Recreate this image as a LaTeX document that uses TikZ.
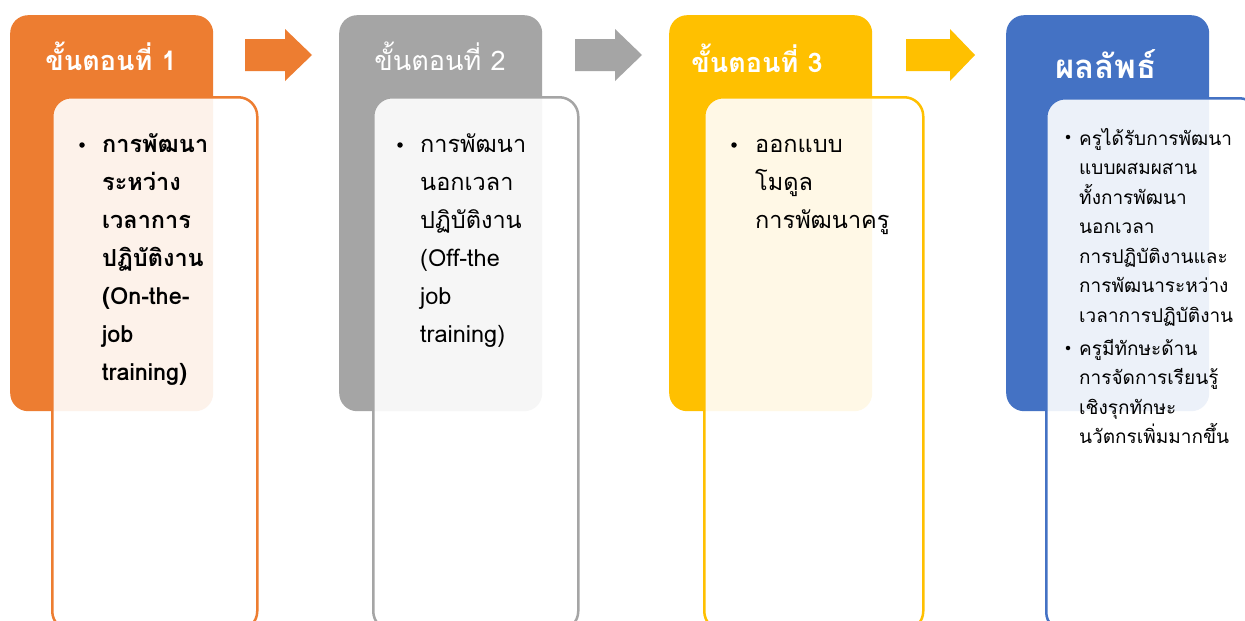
\documentclass[tikz,border=0pt]{standalone}
\usepackage{fontspec}
\setmainfont{Loma}[Script=Thai]
\definecolor{corange}{HTML}{ED7D31}
\definecolor{cgray}{HTML}{A5A5A5}
\definecolor{cyellow}{HTML}{FFC000}
\definecolor{cblue}{HTML}{4472C4}
\tikzset{
  hdr/.style={rounded corners=18pt, minimum width=203pt, minimum height=396pt, anchor=north west, inner sep=0pt},
  outl/.style={rounded corners=19pt, line width=2.5pt, fill=white, fill opacity=0.9, text opacity=1, anchor=north west, inner sep=0pt, minimum height=533pt},
  htext/.style={text=white, anchor=base, inner sep=0pt},
  body/.style={anchor=base west, inner sep=0pt, align=left},
  dot/.style={circle, fill=black, inner sep=0pt, minimum size=5.5pt},
}
\begin{document}
\begin{tikzpicture}[x=1pt,y=-1pt]
\useasboundingbox (0,0) rectangle (1245,621);
\fill[white] (0,0) rectangle (1245,621);
% header boxes
\node[hdr, fill=corange] (h1) at (10,15) {};
\node[hdr, fill=cgray] (h2) at (339,15) {};
\node[hdr, fill=cyellow] (h3) at (669,15) {};
\node[hdr, fill=cblue] (h4) at (1006,15) {};
% outlined boxes
\node[outl, draw=corange, minimum width=205pt] (b1) at (51,96) {};
\node[outl, draw=cgray, minimum width=205pt] (b2) at (372,96) {};
\node[outl, draw=cyellow, minimum width=219pt] (b3) at (703,96) {};
\node[outl, draw=cblue, minimum width=212pt] (b4) at (1045,97) {};
% block arrows
\fill[corange] (245,39) -- (285,39) -- (285,29) -- (312,55) -- (285,81) -- (285,71) -- (245,71) -- cycle;
\fill[cgray] (575,39) -- (615,39) -- (615,29) -- (642,55) -- (615,81) -- (615,71) -- (575,71) -- cycle;
\fill[cyellow] (906,39) -- (950,39) -- (950,29) -- (975,55) -- (950,81) -- (950,71) -- (906,71) -- cycle;
% header texts
\node[htext, font=\bfseries\fontsize{27}{30}\selectfont] (t1) at (111,70) {ขั้นตอนที่ 1};
\node[htext, font=\fontsize{27}{30}\selectfont] (t2) at (440,70) {ขั้นตอนที่ 2};
\node[htext, font=\bfseries\fontsize{27}{30}\selectfont] (t3) at (757,72) {ขั้นตอนที่ 3};
\node[htext, font=\bfseries\fontsize{33}{36}\selectfont] (t4) at (1106,78) {ผลลัพธ์};
% body texts
\node[dot] (d1) at (82,145) {};
\node[body, font=\bfseries\fontsize{23.5}{38}\selectfont] (x1) at (102,152)
  {\parbox[t]{150pt}{การพัฒนา\\ระหว่าง\\เวลาการ\\ปฏิบัติงาน\\(On-the-\\job\\training)}};
\node[dot] (d2) at (400,145) {};
\node[body, font=\fontsize{23.5}{38}\selectfont] (x2) at (420,152)
  {\parbox[t]{150pt}{การพัฒนา\\นอกเวลา\\ปฏิบัติงาน\\(Off-the\\job\\training)}};
\node[dot] (d3) at (734,145) {};
\node[body, font=\fontsize{23.5}{38}\selectfont] (x3) at (755,152)
  {\parbox[t]{150pt}{ออกแบบ\\โมดูล\\การพัฒนาครู}};
\node[dot, minimum size=4.5pt] (d4a) at (1068,137) {};
\node[body, font=\fontsize{19}{29.5}\selectfont] (x4a) at (1079,145)
  {\parbox[t]{170pt}{ครูได้รับการพัฒนา\\แบบผสมผสาน\\ทั้งการพัฒนา\\นอกเวลา\\การปฏิบัติงานและ\\การพัฒนาระหว่าง\\เวลาการปฏิบัติงาน}};
\node[dot, minimum size=4.5pt] (d4b) at (1068,348) {};
\node[body, font=\fontsize{19}{29.5}\selectfont] (x4b) at (1079,355)
  {\parbox[t]{170pt}{ครูมีทักษะด้าน\\การจัดการเรียนรู้\\เชิงรุกทักษะ\\นวัตกรเพิ่มมากขึ้น}};
\end{tikzpicture}
\end{document}
